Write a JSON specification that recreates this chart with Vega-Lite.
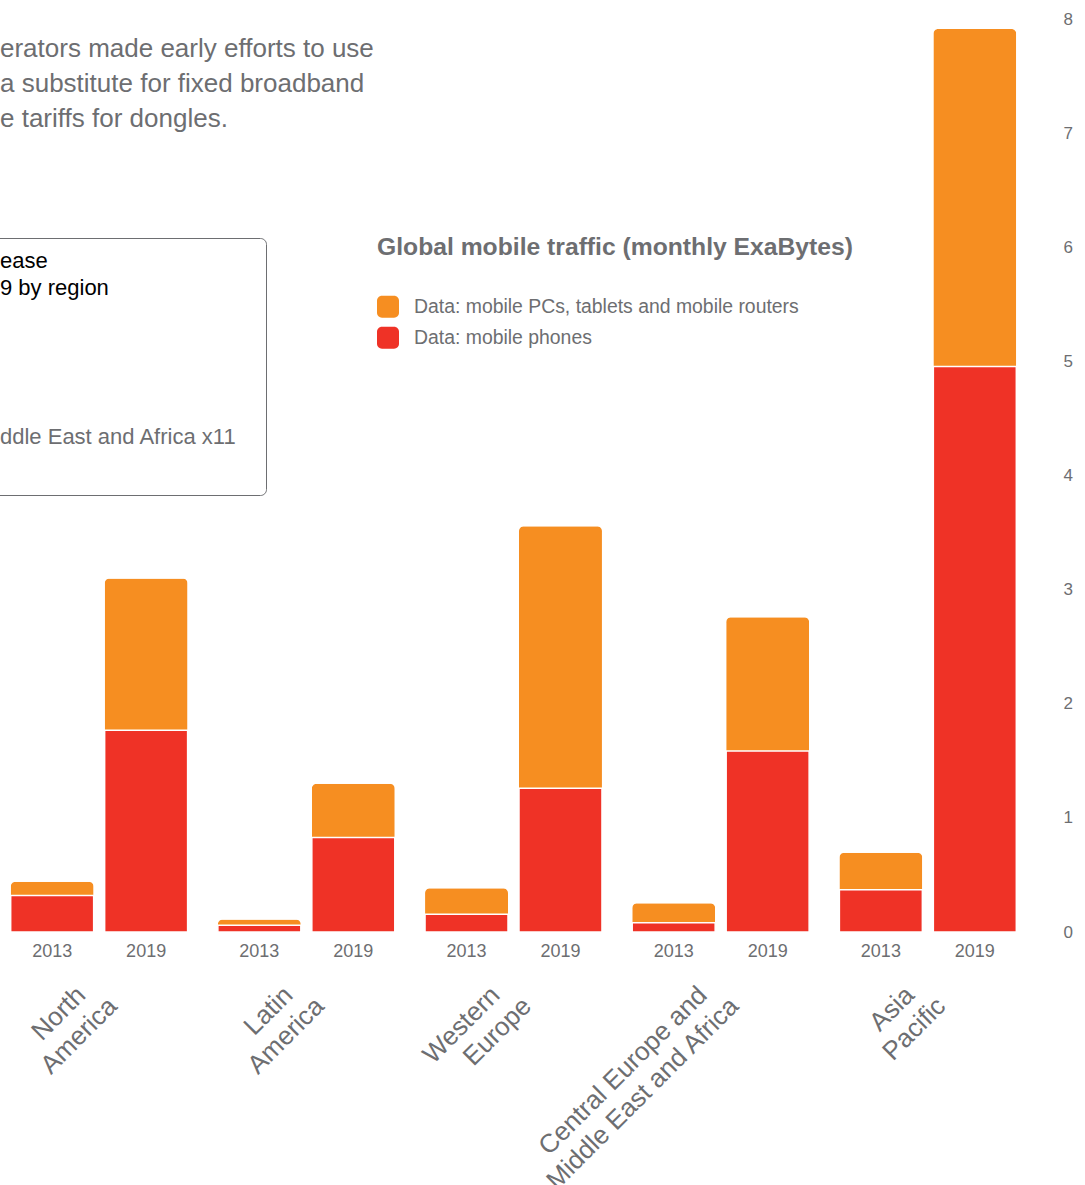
{
  "$schema": "https://vega.github.io/schema/vega-lite/v6.json",
  "width": 1027,
  "height": 932,
  "autosize": "none",
  "padding": {"left": 0, "top": 0, "right": 58, "bottom": 253},
  "background": "white",
  "config": {
    "font": "Liberation Sans",
    "view": {"stroke": null}
  },
  "title": {
    "text": ["erators made early efforts to use", "a substitute for fixed broadband", "e tariffs for dongles."],
    "anchor": "start",
    "frame": "group",
    "orient": "top",
    "offset": 0,
    "baseline": "top",
    "dy": 132,
    "fontSize": 26,
    "fontWeight": "normal",
    "color": "#6d6e71",
    "lineHeight": 35
  },
  "datasets": {
    "bars": [
      {"region": "North America", "year": "2013", "phones": 0.32, "total": 0.44},
      {"region": "North America", "year": "2019", "phones": 1.77, "total": 3.10},
      {"region": "Latin America", "year": "2013", "phones": 0.06, "total": 0.11},
      {"region": "Latin America", "year": "2019", "phones": 0.83, "total": 1.30},
      {"region": "Western Europe", "year": "2013", "phones": 0.155, "total": 0.383},
      {"region": "Western Europe", "year": "2019", "phones": 1.26, "total": 3.56},
      {"region": "Central Europe and Middle East and Africa", "year": "2013", "phones": 0.082, "total": 0.252},
      {"region": "Central Europe and Middle East and Africa", "year": "2019", "phones": 1.588, "total": 2.76},
      {"region": "Asia Pacific", "year": "2013", "phones": 0.371, "total": 0.696},
      {"region": "Asia Pacific", "year": "2019", "phones": 4.96, "total": 7.92}
    ],
    "box": [
      {"note": "ddle East and Africa x11"}
    ]
  },
  "layer": [
    {
      "data": {"name": "bars"},
      "mark": {"type": "bar", "cornerRadiusTopLeft": 5, "cornerRadiusTopRight": 5},
      "encoding": {
        "x": {
          "field": "region", "type": "nominal",
          "scale": {"domain": ["North America", "Latin America", "Western Europe", "Central Europe and Middle East and Africa", "Asia Pacific"], "paddingInner": 0.146, "paddingOuter": 0.0516},
          "axis": {
            "title": null, "orient": "bottom", "domain": false, "ticks": false, "grid": false,
            "labelAngle": -45, "labelAlign": "right", "labelBaseline": "alphabetic",
            "labelPadding": 54, "labelOffset": -2, "labelFontSize": 26, "labelLineHeight": 30,
            "labelColor": "#6d6e71", "labelLimit": 0, "labelOverlap": false, "labelBound": false, "labelFlush": false,
            "labelExpr": "datum.value == 'North America' ? ['North\u00a0\u00a0\u2060', 'America'] : datum.value == 'Latin America' ? ['Latin\u00a0\u00a0\u2060', 'America'] : datum.value == 'Western Europe' ? ['Western\u00a0\u00a0\u2060', 'Europe'] : datum.value == 'Asia Pacific' ? ['Asia\u00a0\u00a0\u2060', 'Pacific'] : ['Central Europe and\u00a0\u00a0\u2060', 'Middle East and Africa']"
          }
        },
        "xOffset": {"field": "year", "type": "nominal", "scale": {"paddingInner": 0.117, "paddingOuter": 0}},
        "y": {
          "field": "total", "type": "quantitative",
          "scale": {"domain": [0, 8.1754], "nice": false},
          "axis": {"title": null, "orient": "right", "domain": false, "ticks": false, "grid": false, "values": [0, 1, 2, 3, 4, 5, 6, 7, 8], "format": "d", "labelPadding": 36, "labelAlign": "left", "labelFontSize": 17, "labelColor": "#6d6e71"}
        },
        "color": {
          "datum": "Data: mobile PCs, tablets and mobile routers",
          "type": "nominal",
          "scale": {"domain": ["Data: mobile PCs, tablets and mobile routers", "Data: mobile phones"], "range": ["#F68E21", "#EF3226"]},
          "legend": {
            "title": "Global mobile traffic (monthly ExaBytes)",
            "orient": "none", "legendX": 377, "legendY": 235, "padding": 0,
            "titleFontSize": 24.7, "titleFontWeight": "bold", "titleColor": "#6d6e71", "titlePadding": 36, "titleLimit": 0, "titleBaseline": "top",
            "symbolType": "M-0.55,-1H0.55A0.45,0.45 0 0 1 1,-0.55V0.55A0.45,0.45 0 0 1 0.55,1H-0.55A0.45,0.45 0 0 1 -1,0.55V-0.55A0.45,0.45 0 0 1 -0.55,-1Z",
            "symbolSize": 484, "symbolStrokeWidth": 0, "symbolOpacity": 1,
            "labelFontSize": 19.4, "labelOffset": 15, "labelColor": "#6d6e71", "labelLimit": 0,
            "rowPadding": 9
          }
        }
      }
    },
    {
      "data": {"name": "bars"},
      "mark": {"type": "bar", "stroke": "white", "strokeWidth": 1.5},
      "encoding": {
        "x": {"field": "region", "type": "nominal"},
        "xOffset": {"field": "year", "type": "nominal"},
        "y": {"field": "phones", "type": "quantitative"},
        "color": {"datum": "Data: mobile phones", "type": "nominal"}
      }
    },
    {
      "data": {"name": "bars"},
      "mark": {"type": "text", "fontSize": 18, "color": "#6d6e71", "baseline": "middle", "dy": 20},
      "encoding": {
        "x": {"field": "region", "type": "nominal"},
        "xOffset": {"field": "year", "type": "nominal"},
        "y": {"datum": 0, "type": "quantitative"},
        "text": {"field": "year"}
      }
    },
    {
      "data": {"name": "box"},
      "mark": {"type": "point", "opacity": 0},
      "encoding": {
        "shape": {
          "field": "note", "type": "nominal",
          "legend": {
            "title": ["ease", "9 by region"],
            "orient": "none", "legendX": -13, "legendY": 238, "padding": 13,
            "strokeColor": "#6d6e71", "cornerRadius": 6,
            "encode": {"legend": {"update": {"strokeWidth": {"value": 2}}}},
            "titleFontSize": 22, "titleFontWeight": "normal", "titleColor": "#000000", "titleLineHeight": 27, "titleBaseline": "top", "titlePadding": 92, "titleLimit": 0,
            "symbolSize": 8100, "symbolOpacity": 0, "symbolStrokeWidth": 0, "symbolOffset": 163,
            "labelOffset": -253, "labelFontSize": 22, "labelColor": "#6d6e71", "labelLimit": 0
          }
        }
      }
    }
  ]
}
